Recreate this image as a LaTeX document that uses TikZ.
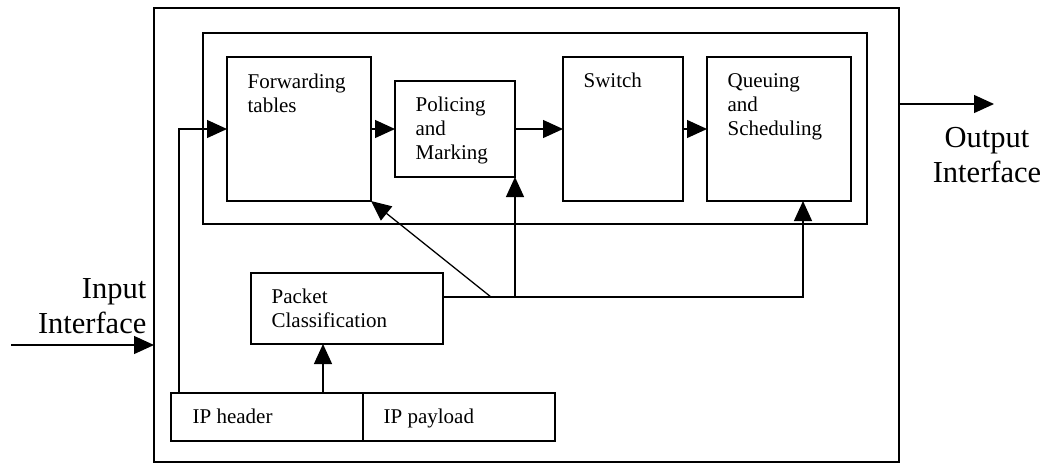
\documentclass[tikz,border=0pt]{standalone}
\usepackage{fontspec}
\setmainfont{Liberation Serif}
\usetikzlibrary{arrows.meta}
\begin{document}
\begin{tikzpicture}[x=1pt,y=-1pt,
  line width=1.3pt,
  box/.style={draw,rectangle,inner sep=0pt,outer sep=0pt},
  arr/.style={-{Triangle[length=20pt,width=18pt]}},
  % multi-line labels are anchored on the baseline of their last line
  boxtext/.style={inner sep=0pt,anchor=base west,align=left,
    font=\fontsize{21}{24}\selectfont},
  iftext/.style={inner sep=0pt,font=\fontsize{30.5}{35}\selectfont}]
\useasboundingbox (0,0) rectangle (1049,464);

% router frame and the forwarding pipeline frame
\node[box,minimum width=745pt,minimum height=454pt] (outer) at (526.5,235) {};
\node[box,minimum width=664pt,minimum height=191pt] (inner) at (535,128.5) {};

% pipeline stages
\node[box,minimum width=144pt,minimum height=144pt] (fwd) at (299,129) {};
\node[box,minimum width=120pt,minimum height=96pt]  (pol) at (455,129) {};
\node[box,minimum width=120pt,minimum height=144pt] (sw)  at (623,129) {};
\node[box,minimum width=144pt,minimum height=144pt] (que) at (779,129) {};

% classifier and packet fields
\node[box,minimum width=192pt,minimum height=71pt] (pc)  at (347,308.5) {};
\node[box,minimum width=192pt,minimum height=48pt] (iph) at (267,417) {};
\node[box,minimum width=192pt,minimum height=48pt] (ipp) at (459,417) {};

% stage labels
\node[boxtext] (tfwd) at (247,112) {Forwarding\\tables};
\node[boxtext] (tpol) at (415,159) {Policing\\and\\Marking};
\node[boxtext] (tsw)  at (583,87)  {Switch};
\node[boxtext] (tque) at (727,135) {Queuing\\and\\Scheduling};
\node[boxtext] (tpc)  at (271,327) {Packet\\Classification};
\node[boxtext] (tiph) at (192,423) {IP header};
\node[boxtext] (tipp) at (383,423) {IP payload};

% interface labels
\node[iftext,anchor=base east,align=right] (tin) at (147,333) {Input\\Interface};
\node[iftext,anchor=base,align=center] (tout) at (987,182) {Output\\Interface};

% packet flow through the pipeline
\draw[arr] (fwd.east) -- (pol.west);
\draw[arr] (pol.east) -- (sw.west);
\draw[arr] (sw.east) -- (que.west);

% header feeds the forwarding tables and the classifier
\coordinate (hdrtap) at ([xshift=8pt]iph.north west);
\draw[arr] (hdrtap) |- (fwd.west);
\coordinate (hdrup) at ([xshift=-40pt]iph.north east);
\draw[arr] (hdrup) -- (hdrup |- pc.south);

% classifier result distributed to the stages
\coordinate (cls) at ([yshift=11.5pt]pc.east);
\coordinate (diag) at ([xshift=48pt]cls);
\draw[arr] (cls) -| ([xshift=24pt]que.south);
\draw[arr] (cls -| pol.south east) -- (pol.south east);
\draw[arr] (diag) -- (fwd.south east);

% external interfaces
\coordinate (inl) at (11,345);
\draw[arr] (inl) -- (inl -| outer.west);
\coordinate (outr) at (994,104);
\draw[arr] (outr -| outer.east) -- (outr);
\end{tikzpicture}
\end{document}
